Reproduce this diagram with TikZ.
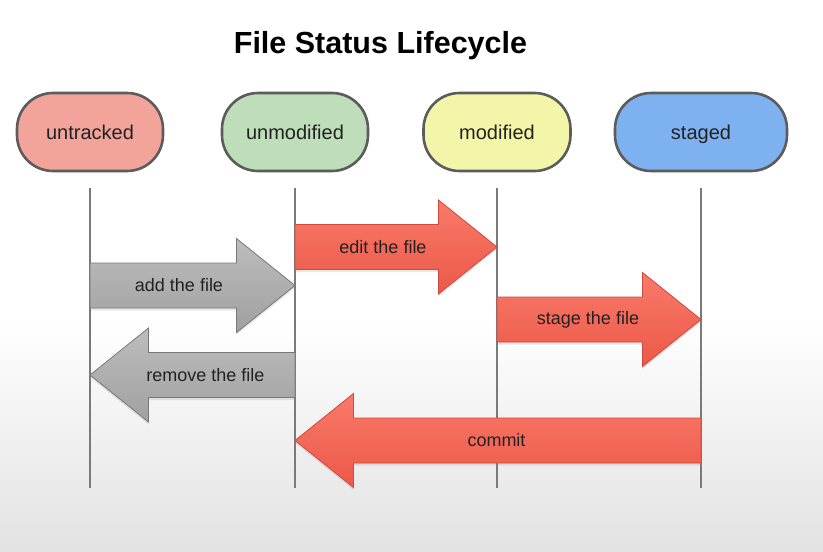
\documentclass[tikz,border=0pt]{standalone}
\usepackage{fontspec}
\setmainfont{Liberation Sans}
\usetikzlibrary{calc,shadows}

\definecolor{untrackedFill}{HTML}{F2A49A}
\definecolor{unmodifiedFill}{HTML}{BEDDB9}
\definecolor{modifiedFill}{HTML}{F3F6A8}
\definecolor{stagedFill}{HTML}{7EB1EF}
\definecolor{stateEdge}{HTML}{5C5C5C}
\definecolor{lifeGray}{HTML}{7A7A7A}
\definecolor{redTop}{HTML}{F97A6A}
\definecolor{redBottom}{HTML}{EC5848}
\definecolor{redEdge}{HTML}{CF4A3B}
\definecolor{grayTop}{HTML}{BDBDBD}
\definecolor{grayBottom}{HTML}{A0A0A0}
\definecolor{grayEdge}{HTML}{787878}
\definecolor{bgBottom}{HTML}{E2E2E2}
\definecolor{ink}{HTML}{222222}

% fat block arrow from lifeline point #2 to lifeline point #3
% #1 style, #4 label node name, #5 label text, #6 label shift
\newcommand{\fatarrow}[6]{%
  \shadedraw[#1]
    ($(#2)+(0,-22.5)$) --
    ($(#3)!58.5pt!(#2)+(0,-22.5)$) --
    ($(#3)!58.5pt!(#2)+(0,-47)$) --
    (#3) --
    ($(#3)!58.5pt!(#2)+(0,47)$) --
    ($(#3)!58.5pt!(#2)+(0,22.5)$) --
    ($(#2)+(0,22.5)$) -- cycle;
  \node[flowlabel] (#4) at ($(#2)!0.5!(#3)+(#6,0)$) {#5};
}

\begin{document}
\begin{tikzpicture}[x=1pt,y=-1pt,
  state/.style={draw=stateEdge, line width=2.6pt, rounded corners=36pt,
    minimum height=78pt, text=ink, font=\fontsize{20}{24}\selectfont,
    text height=16pt, text depth=1pt},
  lifeline/.style={draw=lifeGray, line width=2.3pt},
  arrowshadow/.style={drop shadow={opacity=0.18, shadow xshift=0pt, shadow yshift=-2.5pt}},
  redarrow/.style={arrowshadow, top color=redTop, bottom color=redBottom, draw=redEdge, line width=0.8pt},
  grayarrow/.style={arrowshadow, top color=grayTop, bottom color=grayBottom, draw=grayEdge, line width=0.8pt},
  flowlabel/.style={text=ink, font=\fontsize{18}{22}\selectfont, inner sep=0pt},
]
\useasboundingbox (0,0) rectangle (823,552);

% backdrop: white fading to light grey towards the bottom
\fill[white] (0,0) rectangle (823,552);
\shade[top color=white, bottom color=bgBottom] (0,320) rectangle (823,552);

% title
\node[anchor=base, text=black, font=\fontsize{30.5}{36}\selectfont\bfseries] (title) at (380.5,53) {File Status Lifecycle};

% states
\node[state, fill=untrackedFill, minimum width=146pt] (untracked) at (90,132) {untracked};
\node[state, fill=unmodifiedFill, minimum width=146pt] (unmodified) at (295,132) {unmodified};
\node[state, fill=modifiedFill, minimum width=147pt] (modified) at (497,132) {modified};
\node[state, fill=stagedFill, minimum width=172pt] (staged) at (701,132) {staged};

% lifelines
\foreach \s in {untracked, unmodified, modified, staged} {
  \coordinate (\s-top) at (\s |- 0,188);
  \coordinate (\s-bot) at (\s |- 0,488);
  \draw[lifeline] (\s-top) -- (\s-bot);
}

% arrow anchor points on the lifelines
\coordinate (addS)    at (untracked |- 0,285.5);
\coordinate (addE)    at (unmodified |- 0,285.5);
\coordinate (editS)   at (unmodified |- 0,247);
\coordinate (editE)   at (modified |- 0,247);
\coordinate (stageS)  at (modified |- 0,319.5);
\coordinate (stageE)  at (staged |- 0,319.5);
\coordinate (removeS) at (unmodified |- 0,375);
\coordinate (removeE) at (untracked |- 0,375);
\coordinate (commitS) at (staged |- 0,440.5);
\coordinate (commitE) at (unmodified |- 0,440.5);

% transitions
\fatarrow{grayarrow}{addS}{addE}{addL}{add the file}{-13.5}
\fatarrow{redarrow}{editS}{editE}{editL}{edit the file}{-13}
\fatarrow{redarrow}{stageS}{stageE}{stageL}{stage the file}{-11}
\fatarrow{grayarrow}{removeS}{removeE}{removeL}{remove the file}{13}
\fatarrow{redarrow}{commitS}{commitE}{commitL}{commit}{-1.5}
\end{tikzpicture}
\end{document}
